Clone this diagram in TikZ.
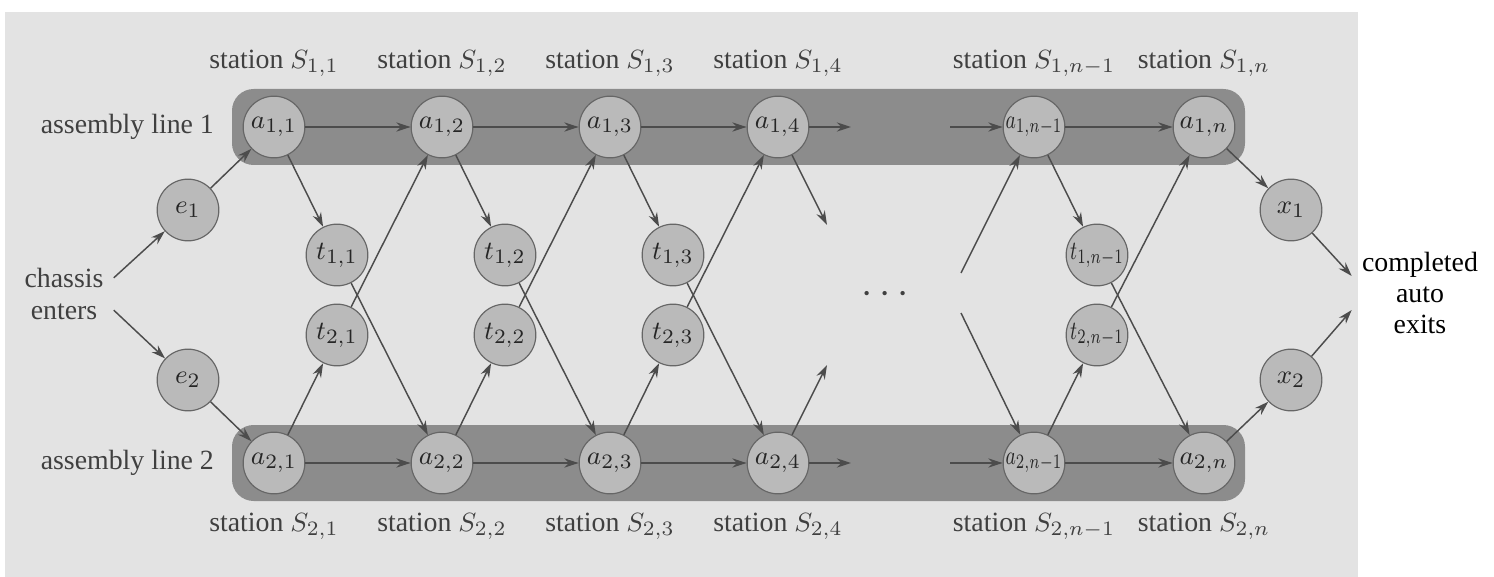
\documentclass[tikz,border=0pt]{standalone}
\usepackage{fontspec}
\setmainfont{Liberation Serif}
\usetikzlibrary{arrows.meta,positioning,shapes}

\tikzset{
  st/.style={draw=black!60, fill=black!27, circle, minimum size=7.4mm, inner sep=0pt, text=black!85},
  lbl/.style={text=black!75},
  arr/.style={draw=black!70, line width=0.5pt, -{Stealth[length=1.7mm,width=1.1mm]}},
  band/.style={fill=black!45, rounded corners=2.6mm},
}
\newcommand{\squeeze}[1]{\scalebox{0.72}[1]{#1}}

\begin{document}
\begin{tikzpicture}[x=0.12mm, y=-0.12mm, font=\fontsize{9.5}{10.6}\selectfont]
  \useasboundingbox (0,0) rectangle (1494,577);
  \fill[black!11] (5,12) rectangle (1358,577);
  \fill[band] (232,89) rectangle (1245,165);
  \fill[band] (232,425) rectangle (1245,501);

  % stations on line 1
  \node[st] (a11) at (274,127) {$a_{1,1}$};
  \node[st] (a12) at (442,127) {$a_{1,2}$};
  \node[st] (a13) at (610,127) {$a_{1,3}$};
  \node[st] (a14) at (778,127) {$a_{1,4}$};
  \node[st] (a1m) at (1034,127) {\squeeze{$a_{1,n-1}$}};
  \node[st] (a1n) at (1204,127) {$a_{1,n}$};

  % stations on line 2
  \node[st] (a21) at (274,463) {$a_{2,1}$};
  \node[st] (a22) at (442,463) {$a_{2,2}$};
  \node[st] (a23) at (610,463) {$a_{2,3}$};
  \node[st] (a24) at (778,463) {$a_{2,4}$};
  \node[st] (a2m) at (1034,463) {\squeeze{$a_{2,n-1}$}};
  \node[st] (a2n) at (1204,463) {$a_{2,n}$};

  % transfers
  \node[st] (t11) at (337,255) {$t_{1,1}$};
  \node[st] (t12) at (505,255) {$t_{1,2}$};
  \node[st] (t13) at (673,255) {$t_{1,3}$};
  \node[st] (t1m) at (1097,255) {\squeeze{$t_{1,n-1}$}};
  \node[st] (t21) at (337,335) {$t_{2,1}$};
  \node[st] (t22) at (505,335) {$t_{2,2}$};
  \node[st] (t23) at (673,335) {$t_{2,3}$};
  \node[st] (t2m) at (1097,335) {\squeeze{$t_{2,n-1}$}};

  % entry and exit
  \node[st] (e1) at (188,210) {$e_1$};
  \node[st] (e2) at (188,380) {$e_2$};
  \node[st] (x1) at (1291,210) {$x_1$};
  \node[st] (x2) at (1291,380) {$x_2$};
  \node[lbl, align=center] (enter) at (64,294) {chassis\\enters};
  \node[align=center] (exit) at (1420,293) {completed\\auto\\exits};
  \node[lbl] (dots) at (885,295) {\scalebox{1.5}{$\cdots$}};

  % labels
  \node[lbl, left of=a11, node distance=17.6mm] (l1) {assembly line 1};
  \node[lbl, left of=a21, node distance=17.6mm] (l2) {assembly line 2};
  \node[lbl, above of=a11, node distance=7.6mm] (s11) {station $S_{1,1}$};
  \node[lbl, above of=a12, node distance=7.6mm] (s12) {station $S_{1,2}$};
  \node[lbl, above of=a13, node distance=7.6mm] (s13) {station $S_{1,3}$};
  \node[lbl, above of=a14, node distance=7.6mm] (s14) {station $S_{1,4}$};
  \node[lbl, above of=a1m, node distance=7.6mm] (s1m) {station $S_{1,n-1}$};
  \node[lbl, above of=a1n, node distance=7.6mm] (s1n) {station $S_{1,n}$};
  \node[lbl, below of=a21, node distance=7.6mm] (s21) {station $S_{2,1}$};
  \node[lbl, below of=a22, node distance=7.6mm] (s22) {station $S_{2,2}$};
  \node[lbl, below of=a23, node distance=7.6mm] (s23) {station $S_{2,3}$};
  \node[lbl, below of=a24, node distance=7.6mm] (s24) {station $S_{2,4}$};
  \node[lbl, below of=a2m, node distance=7.6mm] (s2m) {station $S_{2,n-1}$};
  \node[lbl, below of=a2n, node distance=7.6mm] (s2n) {station $S_{2,n}$};

  % loose ends round the gap
  \coordinate (d1) at (827,225);
  \coordinate (d2) at (827,365);
  \coordinate (h1) at (851,127);
  \coordinate (h2) at (851,463);
  \coordinate (g1) at (950,127);
  \coordinate (g2) at (950,463);
  \coordinate (f1) at (961,273);
  \coordinate (f2) at (961,313);

  \draw[arr] (enter.18) -- (e1);
  \draw[arr] (enter.-18) -- (e2);
  \draw[arr] (e1) -- (a11);
  \draw[arr] (e2) -- (a21);

  \draw[arr] (a11) -- (a12);
  \draw[arr] (a12) -- (a13);
  \draw[arr] (a13) -- (a14);
  \draw[arr] (a14) -- (h1);
  \draw[arr] (g1) -- (a1m);
  \draw[arr] (a1m) -- (a1n);
  \draw[arr] (a21) -- (a22);
  \draw[arr] (a22) -- (a23);
  \draw[arr] (a23) -- (a24);
  \draw[arr] (a24) -- (h2);
  \draw[arr] (g2) -- (a2m);
  \draw[arr] (a2m) -- (a2n);

  \draw[arr] (a11) -- (t11);
  \draw[arr] (a12) -- (t12);
  \draw[arr] (a13) -- (t13);
  \draw[arr] (a14) -- (d1);
  \draw[arr] (a1m) -- (t1m);
  \draw[arr] (a21) -- (t21);
  \draw[arr] (a22) -- (t22);
  \draw[arr] (a23) -- (t23);
  \draw[arr] (a24) -- (d2);
  \draw[arr] (a2m) -- (t2m);

  \draw[arr] (t11) -- (a22);
  \draw[arr] (t12) -- (a23);
  \draw[arr] (t13) -- (a24);
  \draw[arr] (t1m) -- (a2n);
  \draw[arr] (t21) -- (a12);
  \draw[arr] (t22) -- (a13);
  \draw[arr] (t23) -- (a14);
  \draw[arr] (t2m) -- (a1n);
  \draw[arr] (f1) -- (a1m);
  \draw[arr] (f2) -- (a2m);

  \draw[arr] (a1n) -- (x1);
  \draw[arr] (a2n) -- (x2);
  \draw[arr] (x1) -- (exit.166);
  \draw[arr] (x2) -- (exit.194);
\end{tikzpicture}
\end{document}
